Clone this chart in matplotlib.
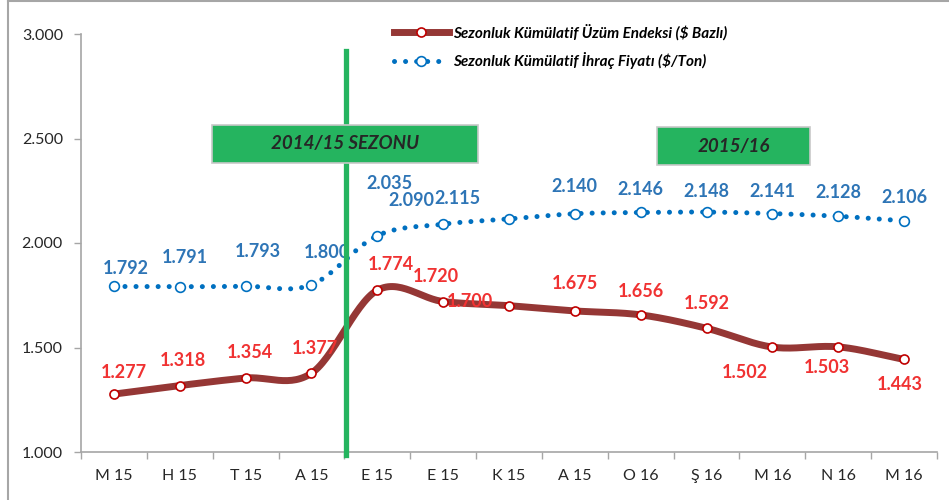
import numpy as np
import matplotlib
matplotlib.use('Agg')
from matplotlib import pyplot as plt
from matplotlib.patches import Rectangle
from matplotlib.lines import Line2D

plt.rcParams['font.family'] = ['Lato', 'DejaVu Sans']

# data
months = ['M 15', 'H 15', 'T 15', 'A 15', 'E 15', 'E 15', 'K 15',
          'A 15', 'O 16', 'Ş 16', 'M 16', 'N 16', 'M 16']
grape_index = [1.277, 1.318, 1.354, 1.377, 1.774, 1.720, 1.700,
               1.675, 1.656, 1.592, 1.502, 1.503, 1.443]
export_price = [1.792, 1.791, 1.793, 1.800, 2.035, 2.090, 2.115,
                2.140, 2.146, 2.148, 2.141, 2.128, 2.106]
grape_name = 'Sezonluk Kümülatif Üzüm Endeksi ($ Bazlı)'
price_name = 'Sezonluk Kümülatif İhraç Fiyatı ($/Ton)'
season_labels = ['2014/15 SEZONU', '2015/16']

# label offsets in pixels (dx, dy) - picked by eye
grape_off = [(10, 22), (3, 25), (4, 26), (3, 25), (14, 26), (-7, 25), (-39, 4),
             (0, 27), (0, 23), (0, 25), (-28, -25), (-11, -21), (-4, -25)]
price_off = [(12, 18), (5, 29), (12, 35), (15, 32), (12, 52), (-32, 24), (-52, 20),
             (0, 27), (0, 23), (0, 21), (0, 22), (0, 24), (0, 23)]

RED_LINE = '#953735'
RED_TXT = '#F03232'
BLUE = '#0070C0'
BLUE_TXT = '#2E75B6'
GREEN = '#25B45F'
GRAY = '#A6A6A6'


def smooth(x, y, n=30):
    # catmull-rom style curve like excel's "smoothed line"
    x = np.asarray(x, float)
    y = np.asarray(y, float)
    px = np.concatenate([[2 * x[0] - x[1]], x, [2 * x[-1] - x[-2]]])
    py = np.concatenate([[2 * y[0] - y[1]], y, [2 * y[-1] - y[-2]]])
    xs, ys = [], []
    t = np.linspace(0, 1, n, endpoint=False)
    for i in range(1, len(px) - 2):
        p0, p1, p2, p3 = py[i - 1], py[i], py[i + 1], py[i + 2]
        q0, q1, q2, q3 = px[i - 1], px[i], px[i + 1], px[i + 2]
        b1 = p1 + (p2 - p0) / 6
        b2 = p2 - (p3 - p1) / 6
        c1 = q1 + (q2 - q0) / 6
        c2 = q2 - (q3 - q1) / 6
        ys.append((1 - t) ** 3 * p1 + 3 * (1 - t) ** 2 * t * b1 + 3 * (1 - t) * t ** 2 * b2 + t ** 3 * p2)
        xs.append((1 - t) ** 3 * q1 + 3 * (1 - t) ** 2 * t * c1 + 3 * (1 - t) * t ** 2 * c2 + t ** 3 * q2)
    xs.append([x[-1]])
    ys.append([y[-1]])
    return np.concatenate(xs), np.concatenate(ys)


fig = plt.figure(figsize=(9.49, 5.0), dpi=100)
ax = fig.add_axes([81 / 949, 48 / 500, 856 / 949, 418 / 500])

x = np.arange(len(months))

# export price - dotted
sx, sy = smooth(x, export_price)
ax.plot(sx, sy, color=BLUE, lw=3.6, dashes=(0.01, 2.2), dash_capstyle='round', zorder=3)
ax.plot(x, export_price, 'o', ms=7, mfc='white', mec=BLUE, mew=1.2, zorder=4)

# grape index - thick line
sx, sy = smooth(x, grape_index)
ax.plot(sx, sy, color=RED_LINE, lw=5, solid_capstyle='round', zorder=3)
ax.plot(x, grape_index, 'o', ms=6.5, mfc='white', mec='#C00000', mew=1.2, zorder=4)

for i in range(len(months)):
    ax.annotate(f'{grape_index[i]:.3f}', (x[i], grape_index[i]), xytext=grape_off[i],
                textcoords='offset pixels', ha='center', va='center',
                color=RED_TXT, fontsize=13, fontweight='bold', zorder=5)
    ax.annotate(f'{export_price[i]:.3f}', (x[i], export_price[i]), xytext=price_off[i],
                textcoords='offset pixels', ha='center', va='center',
                color=BLUE_TXT, fontsize=13, fontweight='bold', zorder=5)

# season separator
ax.plot([3.52, 3.52], [0.985, 2.92], color=GREEN, lw=3.8, zorder=6, clip_on=False)

# season boxes
boxes = [(1.49, 2.383, 4.04, 0.182), (8.25, 2.373, 2.32, 0.182)]
for (bx, by, bw, bh), lab in zip(boxes, season_labels):
    ax.add_patch(Rectangle((bx, by), bw, bh, facecolor=GREEN, edgecolor='#C8C8C8',
                           lw=1.2, zorder=7))
    ax.text(bx + bw / 2, by + bh / 2, lab, ha='center', va='center', fontsize=13.5,
            fontweight='bold', fontstyle='italic', color='#262626', zorder=8)

ax.set_xlim(-0.5, len(months) - 0.5)
ax.set_ylim(1.0, 3.0)
ax.set_yticks([1.0, 1.5, 2.0, 2.5, 3.0])
ax.set_yticklabels(['1.000', '1.500', '2.000', '2.500', '3.000'])
ax.set_xticks(x)
ax.set_xticklabels(months)
ax.set_xticks(np.arange(len(months) + 1) - 0.5, minor=True)
ax.tick_params(axis='x', which='major', length=0, pad=12, labelsize=11.5, labelcolor='#262626')
ax.tick_params(axis='x', which='minor', length=5, color=GRAY, width=1)
ax.tick_params(axis='y', length=5, color=GRAY, width=1, pad=8, labelsize=11.5, labelcolor='#262626')
for s in ['top', 'right']:
    ax.spines[s].set_visible(False)
for s in ['left', 'bottom']:
    ax.spines[s].set_color(GRAY)
    ax.spines[s].set_linewidth(1.2)

# legend
h1 = Line2D([], [], color=RED_LINE, lw=5, marker='o', ms=6.5, mfc='white', mec='#C00000', mew=1.2)
h2 = Line2D([], [], color=BLUE, lw=3.6, dashes=(0.01, 2.2), dash_capstyle='round',
            marker='o', ms=7, mfc='white', mec=BLUE, mew=1.2)
fig.legend([h1, h2], [grape_name, price_name], loc='upper left',
           bbox_to_anchor=(380 / 949, 1 - 10 / 500), frameon=False, numpoints=1,
           handlelength=3.6, handletextpad=0.3, labelspacing=0.8,
           prop={'weight': 'bold', 'style': 'italic', 'size': 11})

# outer frame (only top and left visible in the reference)
fig.add_artist(Line2D([8 / 949, 8 / 949], [0, 1 - 1 / 500], color=GRAY, lw=1.5))
fig.add_artist(Line2D([8 / 949, 1], [1 - 1 / 500, 1 - 1 / 500], color=GRAY, lw=1.5))

fig.savefig('out.png', dpi=100)
